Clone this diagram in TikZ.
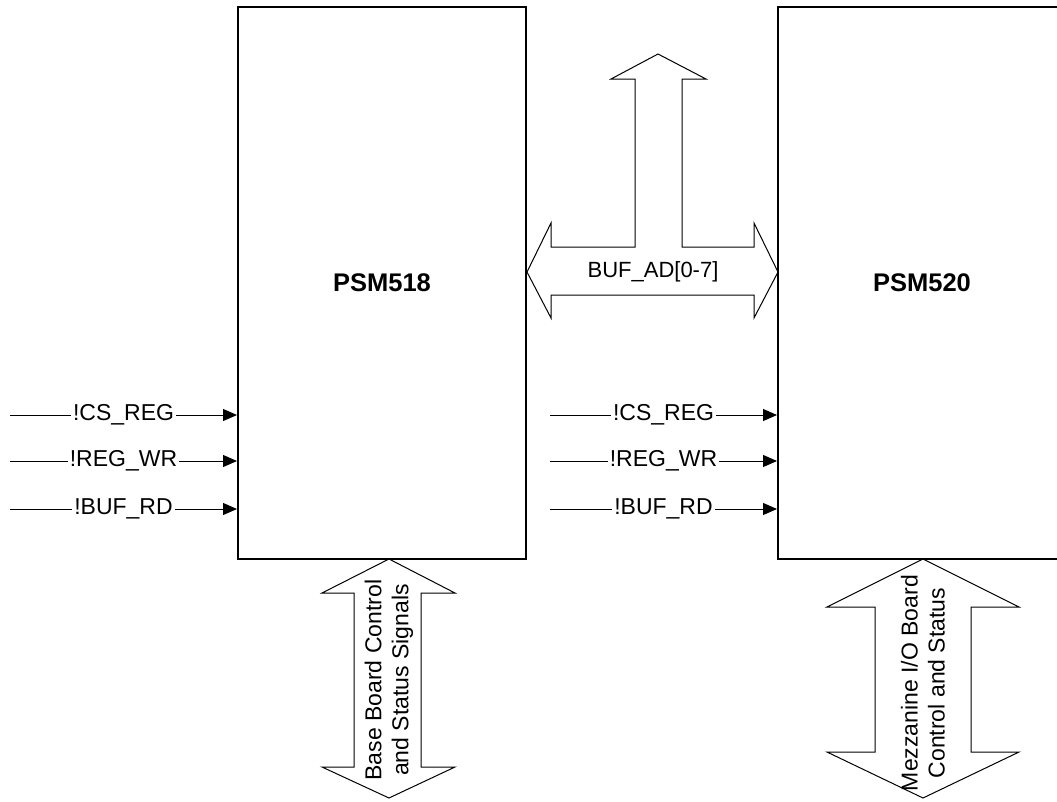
\documentclass[tikz,border=0pt]{standalone}
\usepackage{fontspec}
\setmainfont{Liberation Sans}
\usetikzlibrary{arrows.meta}

\begin{document}
\begin{tikzpicture}[x=1pt,y=-1pt]

                \tikzset{chip/.style = {draw,line width=2pt,minimum width=288pt,minimum height=552pt,inner sep=0pt,font=\fontsize{25.5}{30}\selectfont\bfseries}}
                \tikzset{sig/.style = {-{Triangle[length=14pt,width=12pt]},line width=1pt}}
                \tikzset{siglabel/.style = {fill=white,inner sep=2pt,font=\fontsize{23}{27}\selectfont}}
                \tikzset{bus/.style = {draw,line width=1pt,line join=miter}}
                \tikzset{buslabel/.style = {font=\fontsize{22}{27}\selectfont,align=center}}
                \tikzset{sidelabel/.style = {font=\fontsize{23}{27}\selectfont,align=center,rotate=90}}

                \useasboundingbox (0,0) rectangle (1057,801);
                \clip (0,0) rectangle (1057,801);

                \node[chip] (psma) at (382,283) {PSM518};
                \node[chip] (psmb) at (922,283) {PSM520};

                \coordinate (csa) at (10,415);
                \coordinate (wra) at (10,461);
                \coordinate (rda) at (10,509);
                \coordinate (csb) at (550,415);
                \coordinate (wrb) at (550,461);
                \coordinate (rdb) at (550,509);

                \draw[sig] (csa) -- node[siglabel] {!CS\_REG} (csa -| psma.west);
                \draw[sig] (wra) -- node[siglabel] {!REG\_WR} (wra -| psma.west);
                \draw[sig] (rda) -- node[siglabel] {!BUF\_RD} (rda -| psma.west);
                \draw[sig] (csb) -- node[siglabel] {!CS\_REG} (csb -| psmb.west);
                \draw[sig] (wrb) -- node[siglabel] {!REG\_WR} (wrb -| psmb.west);
                \draw[sig] (rdb) -- node[siglabel] {!BUF\_RD} (rdb -| psmb.west);

                \draw[bus] (527,272) -- (551,223) -- (551,247) -- (635,247) -- (635,79) -- (611,79) -- (658,54) -- (706,79) -- (682,79) -- (682,247) -- (754,247) -- (754,223) -- (778,272) -- (754,318) -- (754,295) -- (551,295) -- (551,318) -- cycle;
                \node[buslabel] (busad) at (653,272) {BUF\_AD[0-7]};

                \draw[bus] (389,559) -- (455,593) -- (421,593) -- (421,767) -- (455,767) -- (389,798) -- (322,767) -- (354,767) -- (354,593) -- (322,593) -- cycle;
                \node[sidelabel] (basectl) at (389,680) {Base Board Control\\and Status Signals};

                \draw[bus] (923,559) -- (1019,607) -- (971,607) -- (971,752) -- (1019,752) -- (923,798) -- (827,752) -- (875,752) -- (875,607) -- (827,607) -- cycle;
                \node[sidelabel] (mezzctl) at (923,683) {Mezzanine I/O Board\\Control and Status};

\end{tikzpicture}
\end{document}
